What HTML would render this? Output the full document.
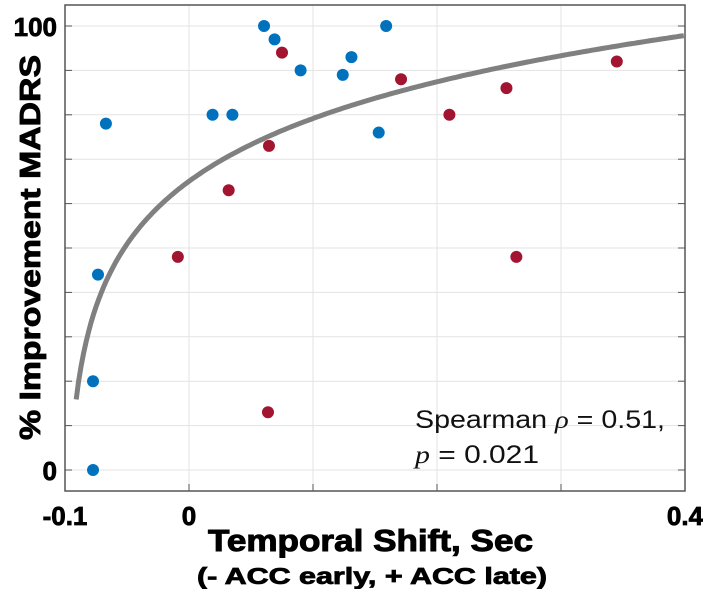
<!DOCTYPE html>
<html><head><meta charset="utf-8"><style>
body{margin:0;background:#fff;}
svg{display:block;font-family:"Liberation Sans",Arial,sans-serif;}
</style></head><body>
<svg id="chart" width="703" height="589">
<g id="grid"></g>
<rect x="65" y="5" width="620" height="486" fill="none" stroke="#555" stroke-width="1.5"/>
<g id="ticks"></g>
<path id="fit" fill="none" stroke="#808080" stroke-width="5"/>
<g id="pts"></g>
<text x="415" y="428" font-size="25" textLength="250" lengthAdjust="spacingAndGlyphs" fill="#111">Spearman <tspan font-style="italic" font-family="'Liberation Serif',serif">ρ</tspan> = 0.51,</text>
<text x="415" y="463" font-size="25" textLength="124" lengthAdjust="spacingAndGlyphs" fill="#111"><tspan font-style="italic" font-family="'Liberation Serif',serif">p</tspan> = 0.021</text>
<text x="208" y="551" font-size="31" font-weight="bold" stroke="#000" stroke-width="1" textLength="325" lengthAdjust="spacingAndGlyphs">Temporal Shift, Sec</text>
<text x="197" y="584" font-size="23" font-weight="bold" stroke="#000" stroke-width="0.8" textLength="350" lengthAdjust="spacingAndGlyphs">(- ACC early, + ACC late)</text>
<text transform="translate(40,440) rotate(-90)" font-size="29" font-weight="bold" stroke="#000" stroke-width="0.9" textLength="385" lengthAdjust="spacingAndGlyphs">% Improvement MADRS</text>
</svg>
<script>
const blueX=[-0.0774,-0.0774,-0.0734,-0.067,0.019,0.035,0.0605,0.069,0.090,0.124,0.131,0.153,0.159];
const blueY=[0,20,44,78,80,80,100,97,90,89,93,76,100];
const redX=[0.0637,-0.009,0.032,0.0645,0.075,0.171,0.210,0.256,0.264,0.345];
const redY=[13,48,63,73,94,88,80,86,48,92];
const xTicks=[-0.1,0,0.4];
const xTickLabels=["-0.1","0","0.4"];
const xGrid=[0,0.1,0.2,0.3];
const yTicks=[0,100];
const yGrid=[0,10,20,30,40,50,60,70,80,90,100];
const fitA=112, fitB=20.4, fitC=0.1;
const sx=v=>65+(v+0.1)*1240;
const sy=v=>470-v*4.44;
const NS="http://www.w3.org/2000/svg";
const grid=document.getElementById('grid'),ticks=document.getElementById('ticks');
function mk(t,a,p){const e=document.createElementNS(NS,t);for(const k in a)e.setAttribute(k,a[k]);p.appendChild(e);return e;}
xGrid.forEach(v=>{const l=mk('line',{x1:sx(v),x2:sx(v),y1:5,y2:491,stroke:'#e3e3e3','stroke-width':1},grid);


const t=mk('line',{x1:sx(v),x2:sx(v),y1:491,y2:484,stroke:'#555'},ticks);

});
yGrid.forEach(v=>{const l=mk('line',{x1:65,x2:685,y1:sy(v),y2:sy(v),stroke:'#e3e3e3','stroke-width':1},grid);


const t=mk('line',{x1:65,x2:72,y1:sy(v),y2:sy(v),stroke:'#555'},ticks);


const t2=mk('line',{x1:678,x2:685,y1:sy(v),y2:sy(v),stroke:'#555'},ticks);

});
xTicks.forEach((v,i)=>{const t=mk('text',{x:sx(v),y:525,'text-anchor':'middle','font-size':26,'font-weight':'bold',stroke:'#000','stroke-width':0.8},ticks);t.textContent=xTickLabels[i];

});
yTicks.forEach(v=>{const t=mk('text',{x:57,y:sy(v)+10,'text-anchor':'end','font-size':26,'font-weight':'bold',stroke:'#000','stroke-width':0.8},ticks);t.textContent=String(v);

});
let d='';for(let x=-0.091;x<=0.4001;x+=0.002){d+=(d?'L':'M')+sx(x).toFixed(1)+','+sy(fitA+fitB*Math.log(x+fitC)).toFixed(1);}
document.getElementById('fit').setAttribute('d',d);
const pts=document.getElementById('pts');
blueX.forEach((v,i)=>{const c=mk('circle',{cx:sx(v),cy:sy(blueY[i]),r:6,fill:'#0072BD'},pts);

});
redX.forEach((v,i)=>{const c=mk('circle',{cx:sx(v),cy:sy(redY[i]),r:6,fill:'#A2142F'},pts);

});
</script>
</body></html>
